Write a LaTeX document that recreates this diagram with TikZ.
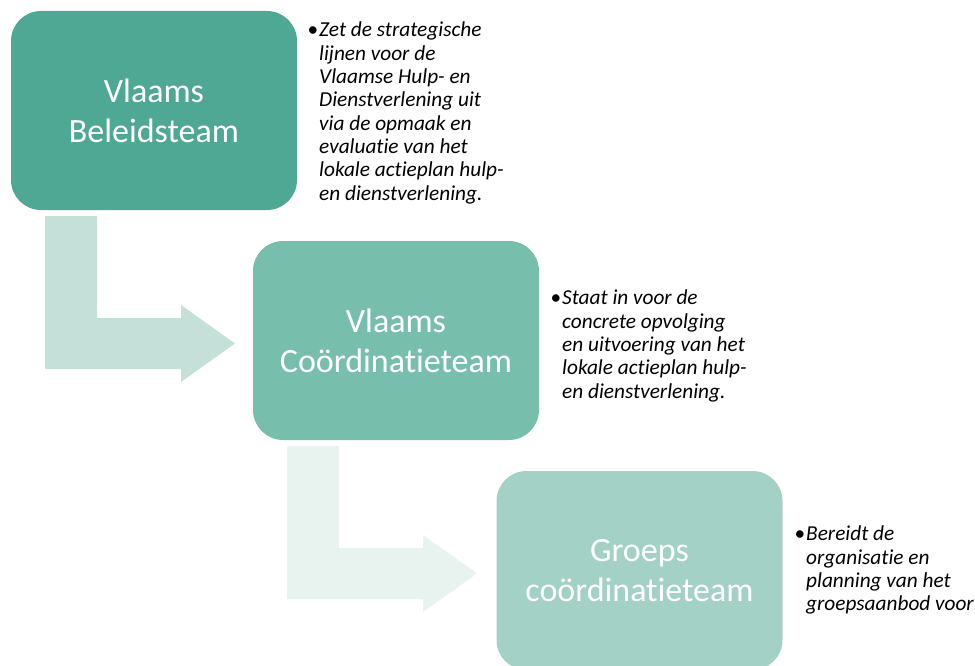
\documentclass[tikz,border=0pt]{standalone}
\usepackage{fontspec}
\setmainfont{Carlito}[Ligatures={NoCommon,NoContextual},RawFeature={-liga;-clig;-calt;-dlig}]
\definecolor{boxA}{HTML}{4EA894}
\definecolor{boxB}{HTML}{77BFAC}
\definecolor{boxC}{HTML}{A3D1C5}
\definecolor{arrA}{HTML}{C4E0D8}
\definecolor{arrB}{HTML}{E8F3EF}
\begin{document}
\begin{tikzpicture}[x=1pt,y=-1pt,
  teambox/.style={rounded corners=30pt, minimum width=286pt, minimum height=199pt, inner sep=0pt,
    text=white, align=center, font=\fontsize{34}{40}\selectfont},
  bullettext/.style={anchor=north west, inner sep=0pt, align=left,
    font=\fontsize{21.3}{23.3}\selectfont\itshape, text=black}]
\useasboundingbox (0,0) rectangle (975,666);
\clip (0,0) rectangle (975,666);
% bent arrows
\fill[arrA] (45,216) -- (97,216) -- (97,318) -- (181,318) -- (181,305) -- (235,343.5) -- (181,382) -- (181,369) -- (45,369) -- cycle;
\fill[arrB] (287,446) -- (339,446) -- (339,548) -- (423,548) -- (423,535) -- (477,573.5) -- (423,612) -- (423,599) -- (287,599) -- cycle;
% boxes
\node[teambox, fill=boxA] (b1) at (154,110.5) {Vlaams\\Beleidsteam};
\node[teambox, fill=boxB] (b2) at (396,340.5) {Vlaams\\Coördinatieteam};
\node[teambox, fill=boxC] (b3) at (639.5,570.5) {Groeps\\coördinatieteam};
% texts
\node[bullettext] (t1) at (319,22) {\llap{\upshape\textbullet\hspace{1pt}}Zet de strategische\\lijnen voor de\\Vlaamse Hulp- en\\Dienstverlening uit\\via de opmaak en\\evaluatie van het\\lokale actieplan hulp-\\en dienstverlening.};
\node[bullettext] (t2) at (562,290) {\llap{\upshape\textbullet\hspace{1pt}}Staat in voor de\\concrete opvolging\\en uitvoering van het\\lokale actieplan hulp-\\en dienstverlening.};
\node[bullettext] (t3) at (806,526) {\llap{\upshape\textbullet\hspace{1pt}}Bereidt de\\organisatie en\\planning van het\\groepsaanbod voor};
\end{tikzpicture}
\end{document}
